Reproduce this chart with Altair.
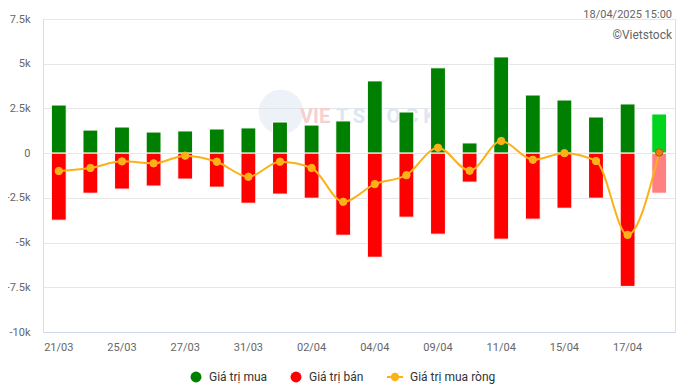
import altair as alt
import pandas as pd

dates = ["21/03", "24/03", "25/03", "26/03", "27/03", "28/03", "31/03", "01/04", "02/04", "03/04",
         "04/04", "08/04", "09/04", "10/04", "11/04", "14/04", "15/04", "16/04", "17/04", "18/04"]
buy = [2690, 1290, 1460, 1180, 1240, 1350, 1410, 1740, 1570, 1800,
       4040, 2300, 4770, 570, 5380, 3250, 2970, 2020, 2750, 2190]
sell = [-3750, -2240, -2010, -1840, -1450, -1900, -2800, -2290, -2520, -4590,
        -5820, -3580, -4530, -1620, -4810, -3690, -3080, -2520, -7450, -2240]
net = [-1000, -830, -460, -570, -140, -480, -1320, -480, -830, -2720,
       -1730, -1230, 300, -980, 680, -370, 0, -440, -4570, 40]
axis_dates = ["21/03", "25/03", "27/03", "31/03", "02/04", "04/04", "09/04", "11/04", "15/04", "17/04"]
y_ticks = [-10000, -7500, -5000, -2500, 0, 2500, 5000, 7500]
bar_types = ["Giá trị mua", "Giá trị bán"]
net_name = "Giá trị mua ròng"
last_date = dates[-1]

rows = []
for d, b, s in zip(dates, buy, sell):
    rows.append({"date": d, "type": bar_types[0], "value": b})
    rows.append({"date": d, "type": bar_types[1], "value": s})
bars_df = pd.DataFrame(rows)
net_df = pd.DataFrame({"date": dates, "value": net, "series": net_name})

W, H = 632, 313
FONT = "Roboto"

xscale = alt.Scale(domain=dates, paddingInner=0.53, paddingOuter=0.265)
yscale = alt.Scale(domain=[-10000, 7500], nice=False, zero=False)

x_enc = alt.X("date:N", scale=xscale, sort=dates, title=None,
              axis=alt.Axis(values=axis_dates, labelAngle=0, ticks=False, domain=True,
                            domainColor="#ccd6eb", domainWidth=1, labelColor="#666666",
                            labelFontSize=11, labelPadding=9, grid=False, labelFont=FONT))
y_enc = alt.Y("value:Q", scale=yscale, title=None,
              axis=alt.Axis(values=y_ticks,
                            labelExpr="datum.value == 0 ? '0' : (datum.value / 1000) + 'k'",
                            grid=True, gridColor="#e6e6e6", domain=False, ticks=False,
                            labelPadding=13, labelColor="#666666", labelFontSize=11,
                            labelFont=FONT))

# watermark
wm = pd.DataFrame({"t": [0]})
wm_circle = alt.Chart(wm).mark_circle(size=2000, color="#dbe6f2", opacity=0.5).encode(
    x=alt.value(238), y=alt.value(93))
wm_text1 = alt.Chart(wm).mark_text(text="VIE", font=FONT, fontSize=20, fontWeight="bold",
                                   color="#f6d0d0", align="left", baseline="middle").encode(
    x=alt.value(257), y=alt.value(98))
wm_text2 = alt.Chart(wm).mark_text(text="T S T O C K", font=FONT, fontSize=20, fontWeight="bold",
                                   color="#dde6f1", align="left", baseline="middle").encode(
    x=alt.value(293), y=alt.value(98))

bars = alt.Chart(bars_df).mark_bar(stroke="white", strokeWidth=1).encode(
    x=x_enc,
    y=y_enc,
    fill=alt.Fill("type:N",
                  scale=alt.Scale(domain=bar_types, range=["#008000", "#ff0000"]),
                  legend=alt.Legend(orient="none", legendX=147, legendY=352, direction="horizontal",
                                    title=None, symbolType="circle", symbolSize=120,
                                    symbolStrokeWidth=0, labelFontSize=12, labelColor="#333333",
                                    labelFont=FONT, columnPadding=22, labelOffset=7),
                  condition=[
                      {"test": f"datum.date == '{last_date}' && datum.value >= 0", "value": "#00d41f"},
                      {"test": f"datum.date == '{last_date}' && datum.value < 0", "value": "#ff8080"},
                  ]),
)

line = alt.Chart(net_df).mark_line(interpolate="monotone", strokeWidth=2).encode(
    x=alt.X("date:N", scale=xscale, sort=dates),
    y=alt.Y("value:Q", scale=yscale),
    stroke=alt.Stroke("series:N",
                      scale=alt.Scale(domain=[net_name], range=["#fbb117"]),
                      legend=alt.Legend(orient="none", legendX=343, legendY=349, title=None,
                                        symbolType="M-1,0L1,0M0.4,0A0.4,0.4,0,1,1,-0.4,0A0.4,0.4,0,1,1,0.4,0",
                                        symbolSize=256, symbolStrokeWidth=2,
                                        symbolFillColor="#fbb117", labelFontSize=12,
                                        labelColor="#333333", labelFont=FONT, labelOffset=6)),
)

points = alt.Chart(net_df).mark_point(filled=True, size=55, opacity=1).encode(
    x=alt.X("date:N", scale=xscale, sort=dates),
    y=alt.Y("value:Q", scale=yscale),
    fill=alt.condition(f"datum.date == '{last_date}'", alt.value("#f07c0a"), alt.value("#fbb117")),
    stroke=alt.condition(f"datum.date == '{last_date}'", alt.value("#a85a20"), alt.value("#fbb117")),
    strokeWidth=alt.value(1),
)

ts = alt.Chart(wm).mark_text(text="18/04/2025 15:00", font=FONT, fontSize=11, color="#666666",
                             align="right", baseline="top").encode(
    x=alt.value(629), y=alt.value(-10))
src = alt.Chart(wm).mark_text(text="©Vietstock", font=FONT, fontSize=12, color="#666666",
                              align="right", baseline="middle").encode(
    x=alt.value(629), y=alt.value(16))

chart = alt.layer(wm_circle, wm_text1, wm_text2, bars, line, points, ts, src).resolve_scale(
    fill="independent"
).properties(
    width=W, height=H,
    autosize=alt.AutoSizeParams(type="none"),
    padding={"left": 35, "top": 11, "right": 1, "bottom": 57},
).configure_view(stroke=None).configure(background="white")

chart.save("out.html", embed_options={"renderer": "svg", "actions": False})
